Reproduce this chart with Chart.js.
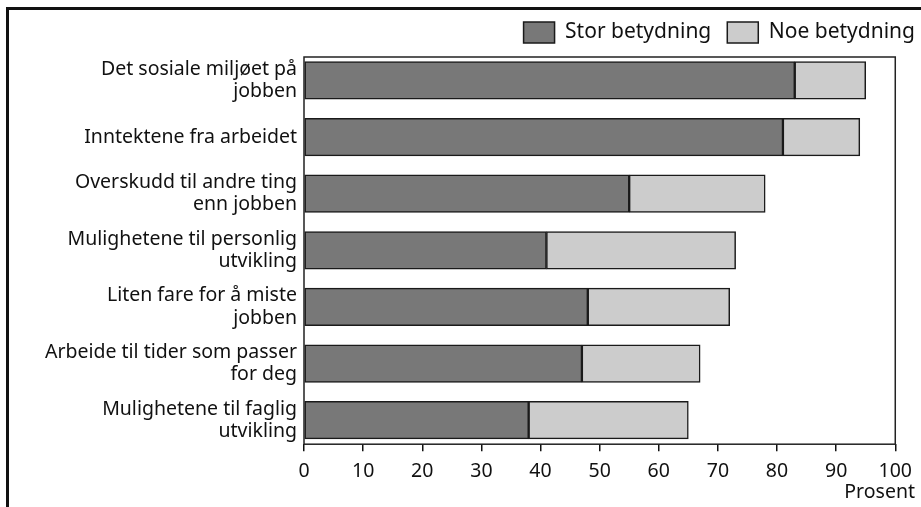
<!DOCTYPE html>
<html>
<head>
<meta charset="utf-8">
<script src="https://cdn.jsdelivr.net/npm/chart.js@4"></script>
<style>
	body { margin: 0; background: #fff; }
	#wrap { width: 921px; height: 507px; position: relative; }
</style>
</head>
<body>
<div id="wrap"><canvas id="chart"></canvas></div>
<script>
// data
let categories = [
	["Det sosiale miljøet på", "jobben"],
	"Inntektene fra arbeidet",
	["Overskudd til andre ting", "enn jobben"],
	["Mulighetene til personlig", "utvikling"],
	["Liten fare for å miste", "jobben"],
	["Arbeide til tider som passer", "for deg"],
	["Mulighetene til faglig", "utvikling"],
];
let storValues = [83, 81, 55, 41, 48, 47, 38];
let noeValues = [12, 13, 23, 32, 24, 20, 27];
let xTicks = [0, 10, 20, 30, 40, 50, 60, 70, 80, 90, 100];
let seriesNames = ["Stor betydning", "Noe betydning"];

let fontFamily = "'Noto Sans', 'DejaVu Sans', sans-serif";
let legendPad = 16;

// outer frame + plot box
let framePlugin = {
	id: "frame",
	afterLayout(chart) {
		let lg = chart.legend;
		lg.left += legendPad;
		lg.right += legendPad;
		lg.top -= 4;
		lg.bottom -= 4;
	},
	beforeDraw(chart) {
		let ctx = chart.ctx;
		ctx.save();
		ctx.strokeStyle = "#111";
		ctx.lineWidth = 3;
		ctx.strokeRect(7.5, 8.5, 1000, 1000);
		ctx.restore();
	},
	beforeDatasetsDraw(chart) {
		let a = chart.chartArea;
		let ctx = chart.ctx;
		ctx.save();
		ctx.strokeStyle = "#222";
		ctx.lineWidth = 1.5;
		ctx.strokeRect(a.left, a.top, a.right - a.left, a.bottom - a.top);
		ctx.restore();
	},
};

let obj = {
	type: "bar",
	data: {
		datasets: [
			{
				label: seriesNames[0],
				data: storValues.map((v, i) => ({ x: v, y: i })),
				backgroundColor: "#787878",
				borderColor: "#1a1a1a",
				borderWidth: 1.5,
				borderSkipped: false,
				barThickness: 37.5,
				xAxisID: "x",
				yAxisID: "y",
			},
			{
				label: seriesNames[1],
				data: noeValues.map((v, i) => ({ x: v, y: i })),
				backgroundColor: "#cccccc",
				borderColor: "#1a1a1a",
				borderWidth: 1.5,
				borderSkipped: false,
				barThickness: 37.5,
				xAxisID: "x",
				yAxisID: "y",
			},
		],
	},
	options: {
		indexAxis: "y",
		responsive: true,
		maintainAspectRatio: false,
		animation: false,
		layout: { padding: { left: 0, right: 6, top: 10, bottom: 3 } },
		plugins: {
			tooltip: { enabled: false },
			legend: {
				position: "top",
				align: "end",
				labels: {
					boxWidth: 31,
					boxHeight: 21,
					padding: legendPad,
					color: "#111",
					font: { family: fontFamily, size: 21 },
				},
			},
			title: {
				display: true,
				position: "bottom",
				align: "end",
				text: "Prosent",
				color: "#111",
				padding: { top: -12, bottom: 0 },
				font: { family: fontFamily, size: 19.5, weight: "normal", lineHeight: 1.2 },
			},
		},
		scales: {
			x: {
				type: "linear",
				stacked: true,
				min: 0,
				max: 100,
				afterBuildTicks: (s) => {
					s.ticks = xTicks.map((v) => ({ value: v }));
				},
				grid: {
					display: true,
					drawOnChartArea: false,
					drawTicks: true,
					tickLength: 7,
					color: "#111",
					lineWidth: 1.5,
				},
				border: { display: false },
				ticks: {
					padding: 9,
					color: "#111",
					maxRotation: 0,
					autoSkip: false,
					font: { family: fontFamily, size: 19.5, lineHeight: 1.2 },
				},
			},
			y: {
				type: "linear",
				stacked: true,
				reverse: true,
				offset: false,
				min: -0.414,
				max: 6.424,
				afterBuildTicks: (s) => {
					s.ticks = categories.map((c, i) => ({ value: i }));
				},
				afterFit: (s) => {
					s.width = 304;
				},
				grid: { display: false, drawTicks: false, offset: false },
				border: { display: false },
				ticks: {
					padding: 7,
					color: "#111",
					autoSkip: false,
					callback: (v) => categories[v],
					font: { family: fontFamily, size: 19.5, lineHeight: 1.13 },
				},
			},
			y2: {
				type: "linear",
				position: "right",
				grid: { display: false, drawTicks: false },
				border: { display: false },
				ticks: { display: false },
				afterFit: (s) => {
					s.width = 18;
				},
			},
		},
	},
	plugins: [framePlugin],
};

new Chart("chart", obj);
</script>
</body>
</html>
